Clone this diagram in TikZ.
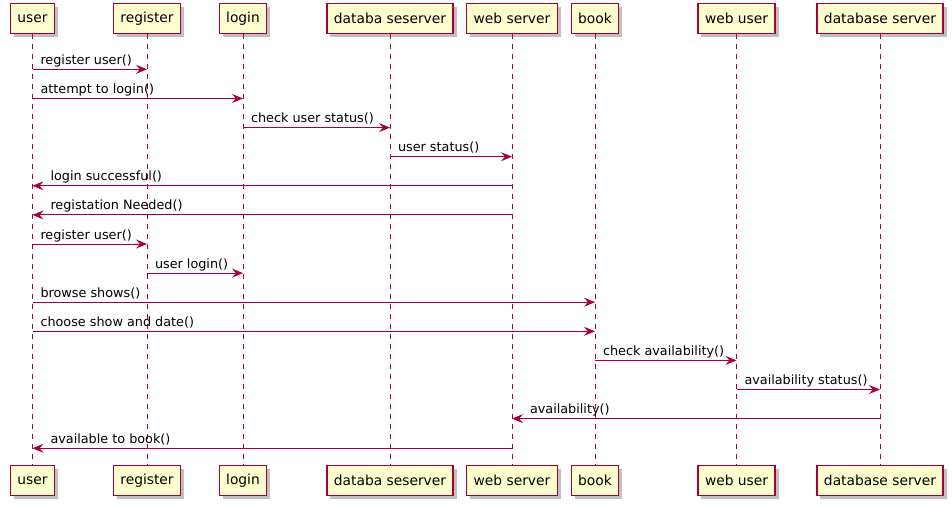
\documentclass[tikz,border=0pt]{standalone}
\usepackage{fontspec}
\setmainfont{DejaVu Sans}
\usetikzlibrary{arrows.meta}
\usetikzlibrary{shadows}

\definecolor{umlred}{HTML}{A80036}
\definecolor{umlbox}{HTML}{FEFECE}

\tikzset{
  actor/.style={draw=umlred, fill=umlbox, line width=1.2pt, minimum height=30pt,
    inner xsep=7pt, font=\fontsize{13.8}{16}\selectfont,
    drop shadow={shadow xshift=3.5pt, shadow yshift=-3.5pt, fill=black!45, opacity=.55}},
  life/.style={umlred, line width=0.8pt, dash pattern=on 5pt off 5pt},
  msg/.style={umlred, line width=1pt, -{Stealth[length=11pt,width=9pt,inset=4pt]}},
  txt/.style={font=\fontsize{12.8}{15}\selectfont, anchor=base west, inner sep=0pt,
    text=black, yshift=5pt},
}

\begin{document}
\begin{tikzpicture}[x=1pt,y=-1pt]
\useasboundingbox (0,0) rectangle (952,506);

% participants, top row
\node[actor] (user)     at ( 32.5,18.3) {user};
\node[actor] (register) at (147.0,18.3) {register};
\node[actor] (login)    at (243.0,18.3) {login};
\node[actor] (dbs)      at (390.0,18.3) {databa seserver};
\node[actor] (web)      at (512.0,18.3) {web server};
\node[actor] (book)     at (595.0,18.3) {book};
\node[actor] (webuser)  at (736.5,18.3) {web user};
\node[actor] (dbserver) at (880.0,18.3) {database server};

% participants, bottom row
\node[actor] (userb)     at ( 32.5,480.5) {user};
\node[actor] (registerb) at (147.0,480.5) {register};
\node[actor] (loginb)    at (243.0,480.5) {login};
\node[actor] (dbsb)      at (390.0,480.5) {databa seserver};
\node[actor] (webb)      at (512.0,480.5) {web server};
\node[actor] (bookb)     at (595.0,480.5) {book};
\node[actor] (webuserb)  at (736.5,480.5) {web user};
\node[actor] (dbserverb) at (880.0,480.5) {database server};

% lifelines
\foreach \p in {user,register,login,dbs,web,book,webuser,dbserver}
  \draw[life] (\p) -- (\p b);

% message rows
\coordinate (m1)  at (0, 69.3);
\coordinate (m2)  at (0, 98.5);
\coordinate (m3)  at (0,127.6);
\coordinate (m4)  at (0,156.7);
\coordinate (m5)  at (0,185.8);
\coordinate (m6)  at (0,214.9);
\coordinate (m7)  at (0,244.0);
\coordinate (m8)  at (0,273.1);
\coordinate (m9)  at (0,302.2);
\coordinate (m10) at (0,331.3);
\coordinate (m11) at (0,360.4);
\coordinate (m12) at (0,389.5);
\coordinate (m13) at (0,418.6);
\coordinate (m14) at (0,448.3);

% messages
\draw[msg] (user |- m1) -- node[txt,pos=0,xshift=7.5pt] {register user()} (register |- m1);
\draw[msg] (user |- m2) -- node[txt,pos=0,xshift=7.5pt] {attempt to login()} (login |- m2);
\draw[msg] (login |- m3) -- node[txt,pos=0,xshift=7.5pt] {check user status()} (dbs |- m3);
\draw[msg] (dbs |- m4) -- node[txt,pos=0,xshift=7.5pt] {user status()} (web |- m4);
\draw[msg] (web |- m5) -- node[txt,pos=1,xshift=17.5pt] {login successful()} (user |- m5);
\draw[msg] (web |- m6) -- node[txt,pos=1,xshift=17.5pt] {registation Needed()} (user |- m6);
\draw[msg] (user |- m7) -- node[txt,pos=0,xshift=7.5pt] {register user()} (register |- m7);
\draw[msg] (register |- m8) -- node[txt,pos=0,xshift=7.5pt] {user login()} (login |- m8);
\draw[msg] (user |- m9) -- node[txt,pos=0,xshift=7.5pt] {browse shows()} (book |- m9);
\draw[msg] (user |- m10) -- node[txt,pos=0,xshift=7.5pt] {choose show and date()} (book |- m10);
\draw[msg] (book |- m11) -- node[txt,pos=0,xshift=7.5pt] {check availability()} (webuser |- m11);
\draw[msg] (webuser |- m12) -- node[txt,pos=0,xshift=7.5pt] {availability status()} (dbserver |- m12);
\draw[msg] (dbserver |- m13) -- node[txt,pos=1,xshift=17.5pt] {availability()} (web |- m13);
\draw[msg] (web |- m14) -- node[txt,pos=1,xshift=17.5pt] {available to book()} (user |- m14);

\end{tikzpicture}
\end{document}
